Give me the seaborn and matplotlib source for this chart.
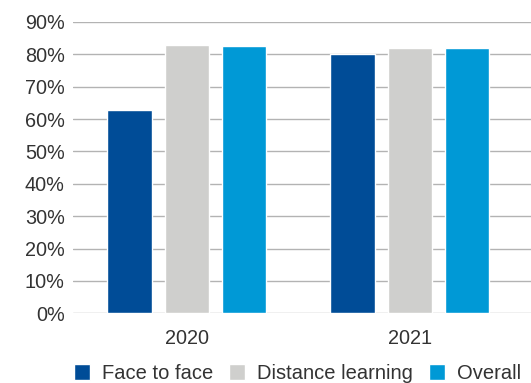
import matplotlib
matplotlib.use("Agg")
import matplotlib.pyplot as plt
import seaborn as sns
import pandas as pd

years = ["2020", "2021"]
modes = ["Face to face", "Distance learning", "Overall"]
face_to_face = [62.8, 80.0]
distance_learning = [82.8, 81.9]
overall = [82.5, 81.9]
colors = ["#004C97", "#CFCFCD", "#0099D6"]
y_ticks = [0, 10, 20, 30, 40, 50, 60, 70, 80, 90]

rows = []
for mode, vals in zip(modes, [face_to_face, distance_learning, overall]):
    for yr, v in zip(years, vals):
        rows.append({"year": yr, "mode": mode, "value": v})
df = pd.DataFrame(rows)

sns.set_style("white")
plt.rcParams["font.family"] = ["Liberation Sans", "DejaVu Sans"]
text_color = "#333333"

fig = plt.figure(figsize=(5.31, 3.83), dpi=100)
ax = fig.add_axes([0.1375, 0.182, 0.8625, 0.7606])

sns.barplot(data=df, x="year", y="value", hue="mode", order=years,
            hue_order=modes, palette=colors, width=0.771, gap=0.226,
            saturation=1, errorbar=None, ax=ax, zorder=3)

ax.set_ylim(0, 90)
ax.set_xlim(-0.511, 1.543)
ax.set_yticks(y_ticks)
ax.set_yticklabels([f"{t}%" for t in y_ticks])
ax.yaxis.grid(True, color="#b3b3b3", linewidth=1.0, zorder=0)
ax.set_axisbelow(True)
for s in ax.spines.values():
    s.set_visible(False)
ax.tick_params(axis="y", length=0, pad=6, labelsize=14.3, labelcolor=text_color)
ax.tick_params(axis="x", length=0, pad=11, labelsize=14.3, labelcolor=text_color)
ax.set_xlabel("")
ax.set_ylabel("")

handles, labels = ax.get_legend_handles_labels()
ax.legend(handles, labels, loc="center", bbox_to_anchor=(297.5 / 531, 1 - 373.5 / 383),
          bbox_transform=fig.transFigure, ncol=3, frameon=False, fontsize=14.5,
          handlelength=0.8, handleheight=0.8, handletextpad=0.58,
          columnspacing=0.8, labelcolor=text_color, borderpad=0, borderaxespad=0)

fig.savefig("out.png", dpi=100)
